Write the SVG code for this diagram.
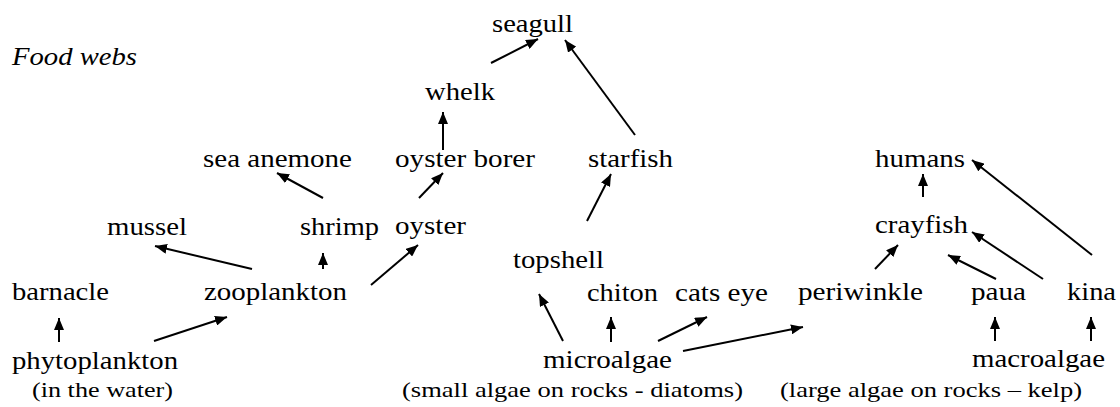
<svg xmlns="http://www.w3.org/2000/svg" width="1120" height="407" viewBox="0 0 1120 407">
<style>
text{font-family:"Liberation Serif","Times New Roman",serif;fill:#000;}
.n{font-size:25px;}
.s{font-size:22px;}
.t{font-size:25px;font-style:italic;}
.c line{stroke:#000;stroke-width:2;marker-end:url(#ah);}
</style>
<defs>
<marker id="ah" viewBox="0 0 12 10" refX="12" refY="5" markerWidth="6" markerHeight="5" orient="auto" markerUnits="strokeWidth">
<path d="M0,0 L12,5 L0,10 Z" fill="#000"/>
</marker>
</defs>
<rect width="1120" height="407" fill="#fff"/>
<g id="title"><text class="t" x="12" y="65" textLength="125" lengthAdjust="spacingAndGlyphs">Food webs</text></g>
<g id="seagull"><text class="n" x="492" y="32" textLength="81" lengthAdjust="spacingAndGlyphs">seagull</text></g>
<g id="whelk"><text class="n" x="425" y="100" textLength="70" lengthAdjust="spacingAndGlyphs">whelk</text></g>
<g id="sea-anemone"><text class="n" x="203" y="167" textLength="149" lengthAdjust="spacingAndGlyphs">sea anemone</text></g>
<g id="oyster-borer"><text class="n" x="395" y="167" textLength="140" lengthAdjust="spacingAndGlyphs">oyster borer</text></g>
<g id="starfish"><text class="n" x="588" y="167" textLength="85" lengthAdjust="spacingAndGlyphs">starfish</text></g>
<g id="humans"><text class="n" x="875" y="167" textLength="90" lengthAdjust="spacingAndGlyphs">humans</text></g>
<g id="mussel"><text class="n" x="107" y="235" textLength="80" lengthAdjust="spacingAndGlyphs">mussel</text></g>
<g id="shrimp"><text class="n" x="300" y="235" textLength="79" lengthAdjust="spacingAndGlyphs">shrimp</text></g>
<g id="oyster"><text class="n" x="395" y="234" textLength="71" lengthAdjust="spacingAndGlyphs">oyster</text></g>
<g id="crayfish"><text class="n" x="875" y="233" textLength="93" lengthAdjust="spacingAndGlyphs">crayfish</text></g>
<g id="topshell"><text class="n" x="513" y="268" textLength="91" lengthAdjust="spacingAndGlyphs">topshell</text></g>
<g id="barnacle"><text class="n" x="12" y="300" textLength="97" lengthAdjust="spacingAndGlyphs">barnacle</text></g>
<g id="zooplankton"><text class="n" x="204" y="300" textLength="143" lengthAdjust="spacingAndGlyphs">zooplankton</text></g>
<g id="chiton"><text class="n" x="587" y="301" textLength="71" lengthAdjust="spacingAndGlyphs">chiton</text></g>
<g id="cats-eye"><text class="n" x="675" y="301" textLength="93" lengthAdjust="spacingAndGlyphs">cats eye</text></g>
<g id="periwinkle"><text class="n" x="798" y="300" textLength="125" lengthAdjust="spacingAndGlyphs">periwinkle</text></g>
<g id="paua"><text class="n" x="971" y="300" textLength="55" lengthAdjust="spacingAndGlyphs">paua</text></g>
<g id="kina"><text class="n" x="1067" y="300" textLength="49" lengthAdjust="spacingAndGlyphs">kina</text></g>
<g id="phytoplankton"><text class="n" x="12" y="369" textLength="166" lengthAdjust="spacingAndGlyphs">phytoplankton</text><text class="s" x="32" y="397" textLength="141" lengthAdjust="spacingAndGlyphs">(in the water)</text></g>
<g id="microalgae"><text class="n" x="543" y="368" textLength="129" lengthAdjust="spacingAndGlyphs">microalgae</text><text class="s" x="402" y="397" textLength="341" lengthAdjust="spacingAndGlyphs">(small algae on rocks - diatoms)</text></g>
<g id="macroalgae"><text class="n" x="972" y="367" textLength="133" lengthAdjust="spacingAndGlyphs">macroalgae</text><text class="s" x="780" y="397" textLength="302" lengthAdjust="spacingAndGlyphs">(large algae on rocks – kelp)</text></g>
<g id="connectors" class="c">
<line x1="491" y1="63" x2="538" y2="39"/>
<line x1="635" y1="135" x2="565" y2="40"/>
<line x1="443" y1="150" x2="443" y2="112"/>
<line x1="323" y1="198" x2="277" y2="173"/>
<line x1="419" y1="198" x2="443" y2="173"/>
<line x1="587" y1="221" x2="611" y2="174"/>
<line x1="252" y1="269" x2="155" y2="246"/>
<line x1="323" y1="269" x2="323" y2="253"/>
<line x1="371" y1="285" x2="418" y2="245"/>
<line x1="59" y1="342" x2="59" y2="318"/>
<line x1="154" y1="341" x2="227" y2="317"/>
<line x1="563" y1="341" x2="539" y2="294"/>
<line x1="611" y1="342" x2="611" y2="317"/>
<line x1="658" y1="341" x2="707" y2="317"/>
<line x1="683" y1="351" x2="803" y2="327"/>
<line x1="923" y1="197" x2="923" y2="174"/>
<line x1="1092" y1="255" x2="972" y2="160"/>
<line x1="875" y1="269" x2="898" y2="245"/>
<line x1="996" y1="279" x2="948" y2="255"/>
<line x1="1043" y1="279" x2="972" y2="232"/>
<line x1="995" y1="341" x2="995" y2="317"/>
<line x1="1091" y1="341" x2="1091" y2="317"/>
</g>
</svg>
